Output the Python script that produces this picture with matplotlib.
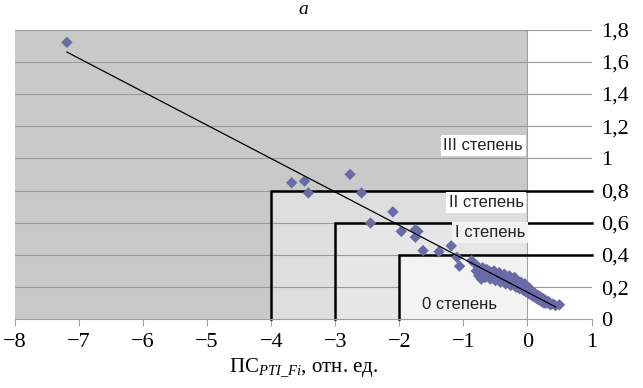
import matplotlib
matplotlib.use("Agg")
import matplotlib.pyplot as plt
import numpy as np

plt.rcParams['font.family'] = ['Liberation Serif', 'DejaVu Serif']
plt.rcParams['mathtext.fontset'] = 'custom'
plt.rcParams['mathtext.rm'] = 'Liberation Serif'
plt.rcParams['mathtext.it'] = 'Liberation Serif:italic'

# scattered points (outliers)
x_out = [-7.19, -3.68, -3.48, -3.42, -2.77, -2.59, -2.45, -2.10, -1.97, -1.75,
         -1.71, -1.75, -1.63, -1.38, -1.19, -1.10, -1.06, -0.87]
y_out = [1.72, 0.848, 0.858, 0.785, 0.90, 0.785, 0.598, 0.667, 0.546, 0.556,
         0.546, 0.51, 0.427, 0.42, 0.456, 0.385, 0.33, 0.364]

# dense cluster near zero
x_clu = [-0.80, -0.78, -0.76, -0.74, -0.72, -0.70, -0.68, -0.66, -0.64, -0.62,
         -0.60, -0.58, -0.56, -0.54, -0.52, -0.50, -0.48, -0.46, -0.44, -0.42,
         -0.40, -0.38, -0.36, -0.34, -0.32, -0.30, -0.28, -0.26, -0.24, -0.22,
         -0.20, -0.18, -0.16, -0.14, -0.12, -0.10, -0.08, -0.06, -0.04, -0.02,
         0.00, 0.02, 0.04, 0.06, 0.08, 0.10, 0.12, 0.14, 0.16, 0.18,
         0.20, 0.22, 0.24, 0.26, 0.28, 0.30, 0.33, 0.36, 0.40, 0.44, 0.50,
         -0.65, -0.55, -0.45, -0.35, -0.25, -0.15, -0.05, 0.05, 0.15, 0.25]
y_clu = [0.30, 0.33, 0.27, 0.31, 0.25, 0.32, 0.29, 0.26, 0.31, 0.28,
         0.30, 0.25, 0.29, 0.27, 0.30, 0.24, 0.28, 0.26, 0.29, 0.23,
         0.27, 0.25, 0.28, 0.22, 0.26, 0.24, 0.27, 0.21, 0.25, 0.23,
         0.26, 0.20, 0.24, 0.22, 0.19, 0.23, 0.21, 0.18, 0.22, 0.17,
         0.20, 0.16, 0.19, 0.15, 0.17, 0.14, 0.16, 0.13, 0.15, 0.12,
         0.14, 0.11, 0.13, 0.10, 0.12, 0.10, 0.11, 0.09, 0.095, 0.085, 0.09,
         0.28, 0.26, 0.255, 0.24, 0.225, 0.20, 0.19, 0.17, 0.14, 0.12]

# linear trend
trend_slope = -0.2075
trend_intercept = 0.168
trend_x = [-7.19, 0.44]

# severity zones
zone_x = [-4, -3, -2]
zone_y = [0.8, 0.6, 0.4]
zone_labels = ["III степень", "II степень", "I степень", "0 степень"]

x_ticks = [-8, -7, -6, -5, -4, -3, -2, -1, 0, 1]
y_ticks = [0, 0.2, 0.4, 0.6, 0.8, 1.0, 1.2, 1.4, 1.6, 1.8]
y_tick_labels = ["0", "0,2", "0,4", "0,6", "0,8", "1", "1,2", "1,4", "1,6", "1,8"]

fig = plt.figure(figsize=(6.43, 3.88), dpi=100)
ax = fig.add_axes([15/643, 1-319.3/388, 576.5/643, 289.8/388])
ax.set_xlim(-8, 1)
ax.set_ylim(0, 1.8)

# backgrounds
ax.fill_between([-8, 0], 0, 1.8, color='#c9c9c9', lw=0, zorder=0)
ax.fill_between([zone_x[0], 0], 0, zone_y[0], color='#dedede', lw=0, zorder=0.5)
ax.fill_between([zone_x[1], 0], 0, zone_y[1], color='#e6e6e6', lw=0, zorder=0.6)
# gridlines
for yv in y_ticks[1:]:
    ax.axhline(yv, color='#9a9a9a', lw=0.8, zorder=1)
ax.axvline(0, color='#a0a0a0', lw=0.8, zorder=1)
ax.fill_between([zone_x[2], 0], 0, zone_y[2], color='#f3f3f3', lw=0, zorder=1.5)

# zone borders
for zx, zy in zip(zone_x, zone_y):
    ax.plot([zx, zx, 1], [0, zy, zy], color='black', lw=1.8, zorder=2,
            solid_joinstyle='miter', clip_on=False)

# zone labels
lab_font = dict(family='Liberation Sans', fontsize=12, color='#222222', zorder=3)
box = dict(facecolor='white', edgecolor='none', pad=2)
ax.text(-0.07, 1.078, zone_labels[0], ha='right', va='center', bbox=box, **lab_font)
ax.text(-0.06, 0.725, zone_labels[1], ha='right', va='center', bbox=box, **lab_font)
ax.text(-0.04, 0.539, zone_labels[2], ha='right', va='center',
        bbox=dict(facecolor='#f2f2f2', edgecolor='none', pad=2), **lab_font)
ax.text(-1.06, 0.095, zone_labels[3], ha='center', va='center', **lab_font)

# data
ax.scatter(x_out + x_clu, y_out + y_clu, marker='D', s=34, color='#6a6aa6',
           edgecolors='none', zorder=4)
tx = np.array(trend_x)
ax.plot(tx, trend_slope * tx + trend_intercept, color='black', lw=0.9, zorder=5)

# axes styling
for s in ['top', 'right', 'left']:
    ax.spines[s].set_visible(False)
ax.spines['bottom'].set_color('#a0a0a0')
ax.spines['bottom'].set_linewidth(0.8)
ax.spines['bottom'].set_zorder(6)

ax.set_xticks(x_ticks)
ax.set_xticklabels([f"\u2212{abs(v)}" if v < 0 else str(v) for v in x_ticks])
ax.tick_params(axis='x', direction='out', length=5, color='#a0a0a0',
               labelsize=16, pad=5)
ax.yaxis.tick_right()
ax.set_yticks(y_ticks)
ax.set_yticklabels(y_tick_labels)
ax.tick_params(axis='y', length=0, labelsize=16, pad=7)

ax.set_xlabel("ПС$_{\\mathit{PTI\\_Fi}}$, отн. ед.", fontsize=15, labelpad=3)
fig.text(303/643, 1-10/388, "a", style='italic', fontsize=14,
         ha='center', va='center')

fig.savefig("out.png", dpi=100)
